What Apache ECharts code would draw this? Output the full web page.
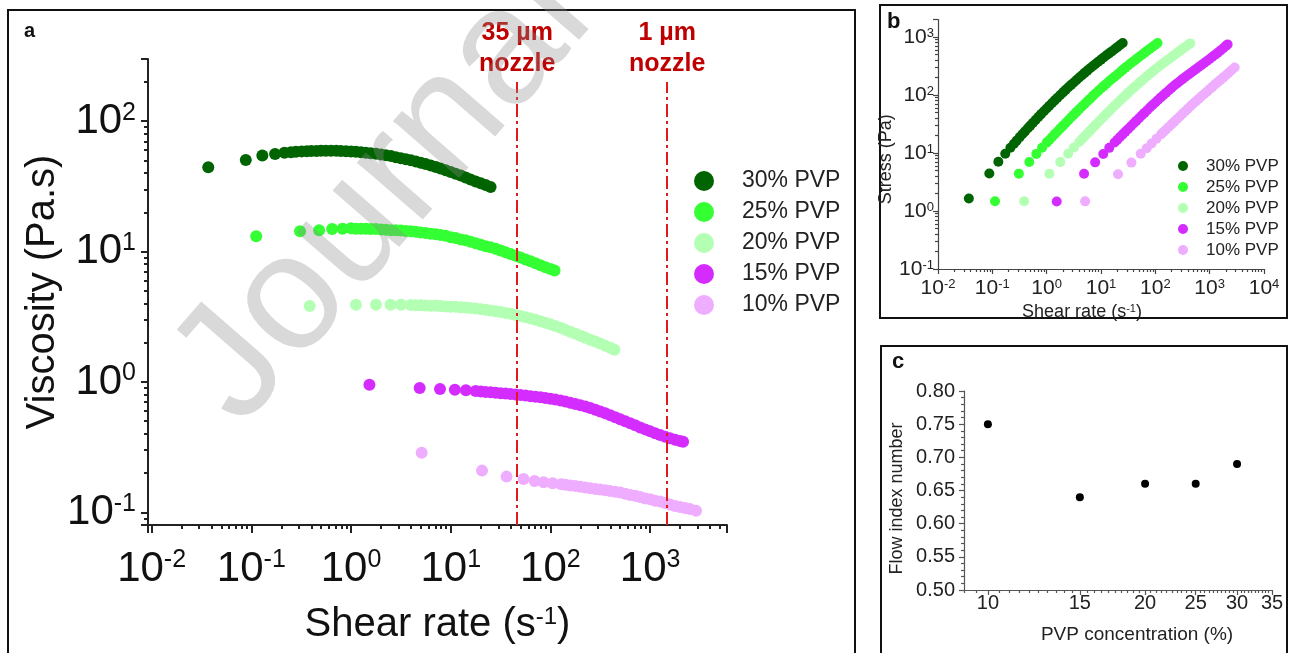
<!DOCTYPE html>
<html>
<head>
<meta charset="utf-8">
<script src="https://cdn.jsdelivr.net/npm/echarts@6/dist/echarts.min.js"></script>
<style>
    html, body { margin: 0; padding: 0; background: #fff; }
    #chart { width: 1291px; height: 653px; }
</style>
</head>
<body>
<div id="chart"></div>
<script>
const FONT = '"Liberation Sans", Arial, Helvetica, sans-serif';

const seriesNames = ['30% PVP', '25% PVP', '20% PVP', '15% PVP', '10% PVP'];
const seriesColors = ['#006400', '#33ff33', '#b3ffb3', '#d42cff', '#efadff'];

// shear rate (1/s) and viscosity (Pa.s)
const rate30 = [0.037, 0.088, 0.129, 0.173, 0.215, 0.25, 0.28, 0.32, 0.36, 0.40, 0.45, 0.50, 0.56, 0.63, 0.71,
    0.79, 0.89, 1.0, 1.12, 1.26, 1.41, 1.58, 1.78, 2.0, 2.24, 2.51, 2.82, 3.16, 3.55, 3.98, 4.47, 5.0, 5.6,
    6.3, 7.1, 7.9, 8.9, 10, 11.2, 12.6, 14.1, 15.8, 17.8, 20, 22.4, 25.1];
const visc30 = [44.4, 50.5, 54.6, 56.1, 57.2, 57.9, 58.3, 58.7, 58.9, 59.0, 59.2, 59.3, 59.4, 59.4, 59.4,
    59.2, 58.9, 58.6, 58.3, 57.9, 57.3, 56.8, 56.2, 55.5, 54.7, 54.0, 53.0, 51.9, 51.1, 50.1, 49.1, 48.1, 47.0,
    45.8, 44.6, 43.4, 42.1, 40.7, 39.5, 38.3, 37.0, 35.7, 34.5, 33.4, 32.4, 31.3];

const rate25 = [0.112, 0.308, 0.479, 0.647, 0.822, 1.0, 1.12, 1.26, 1.41, 1.58, 1.78, 2.0, 2.24, 2.51, 2.82,
    3.16, 3.55, 3.98, 4.47, 5.0, 5.6, 6.3, 7.1, 7.9, 8.9, 10, 11.2, 12.6, 14.1, 15.8, 17.8, 20, 22.4, 25.1,
    28.2, 31.6, 35.5, 39.8, 44.7, 50.1, 56.2, 63.1, 70.8, 79.4, 89.1, 100, 110];
const visc25 = [13.1, 14.3, 14.6, 14.9, 15.0, 15.1, 15.0, 15.0, 15.0, 14.9, 14.9, 14.8, 14.7, 14.6, 14.6,
    14.5, 14.4, 14.3, 14.2, 14.0, 13.9, 13.7, 13.6, 13.4, 13.2, 12.9, 12.7, 12.4, 12.2, 11.9, 11.6, 11.3, 11.0,
    10.8, 10.5, 10.2, 9.89, 9.59, 9.29, 8.99, 8.71, 8.43, 8.15, 7.87, 7.60, 7.35, 7.16];

const rate20 = [0.385, 1.12, 1.78, 2.49, 3.17, 3.98, 4.47, 5.0, 5.6, 6.3, 7.1, 7.9, 8.9, 10, 11.2, 12.6, 14.1,
    15.8, 17.8, 20, 22.4, 25.1, 28.2, 31.6, 35.5, 39.8, 44.7, 50.1, 56.2, 63.1, 70.8, 79.4, 89.1, 100, 112,
    126, 141, 158, 178, 200, 224, 251, 282, 316, 355, 398, 438];
const visc20 = [3.82, 3.91, 3.91, 3.91, 3.91, 3.89, 3.88, 3.87, 3.86, 3.85, 3.84, 3.82, 3.80, 3.78, 3.77,
    3.75, 3.72, 3.69, 3.66, 3.62, 3.58, 3.54, 3.49, 3.44, 3.38, 3.33, 3.27, 3.21, 3.14, 3.07, 3.00, 2.92, 2.84,
    2.77, 2.69, 2.61, 2.52, 2.43, 2.34, 2.26, 2.18, 2.11, 2.04, 1.97, 1.90, 1.83, 1.77];

const rate15 = [1.53, 4.88, 7.81, 11.0, 14.2, 17.8, 20, 22.4, 25.1, 28.2, 31.6, 35.5, 39.8, 44.7, 50.1, 56.2,
    63.1, 70.8, 79.4, 89.1, 100, 112, 126, 141, 158, 178, 200, 224, 251, 282, 316, 355, 398, 447, 501, 562,
    631, 708, 794, 891, 1000, 1122, 1259, 1413, 1585, 1778, 1995, 2140];
const visc15 = [0.953, 0.899, 0.883, 0.873, 0.863, 0.851, 0.845, 0.839, 0.834, 0.828, 0.820, 0.815, 0.807,
    0.800, 0.793, 0.787, 0.778, 0.771, 0.764, 0.754, 0.743, 0.733, 0.721, 0.708, 0.693, 0.679, 0.664, 0.649,
    0.631, 0.612, 0.594, 0.575, 0.556, 0.537, 0.518, 0.500, 0.482, 0.465, 0.448, 0.433, 0.418, 0.405, 0.392,
    0.380, 0.370, 0.360, 0.352, 0.348];

const rate10 = [5.11, 20.6, 36.3, 53.8, 69.4, 85.4, 105, 128, 141, 158, 178, 200, 224, 251, 282, 316, 355,
    398, 447, 501, 562, 631, 708, 794, 891, 1000, 1122, 1259, 1413, 1585, 1778, 1995, 2239, 2512, 2884];
const visc10 = [0.287, 0.209, 0.188, 0.180, 0.174, 0.170, 0.167, 0.164, 0.163, 0.161, 0.159, 0.157, 0.155,
    0.153, 0.151, 0.150, 0.148, 0.146, 0.144, 0.142, 0.139, 0.136, 0.134, 0.131, 0.128, 0.126, 0.123, 0.121,
    0.118, 0.115, 0.112, 0.110, 0.108, 0.106, 0.103];

const rates = [rate30, rate25, rate20, rate15, rate10];
const viscs = [visc30, visc25, visc20, visc15, visc10];

const nozzleRates = [46.4, 1480];
const nozzleLabels = ['35 µm\nnozzle', '1 µm\nnozzle'];

// panel c
const concentration = [10, 15, 20, 25, 30];
const flowIndex = [0.75, 0.64, 0.66, 0.66, 0.69];
const concTicks = [10, 15, 20, 25, 30, 35];
const concMinorTicks = [9, 9.5, 10.5, 11, 11.5, 12, 12.5, 13, 13.5, 14, 14.5, 15.5, 16, 16.5, 17, 17.5, 18,
    18.5, 19, 19.5, 20.5, 21, 21.5, 22, 22.5, 23, 23.5, 24, 24.5, 25.5, 26, 26.5, 27, 27.5, 28, 28.5, 29,
    29.5, 30.5, 31, 31.5, 32, 32.5, 33, 33.5, 34, 34.5];

// 2..9 x 10^e minor ticks between lo and hi
function logMinor(lo, hi) {
    const out = [];
    for (let e = -3; e <= 4; e++) {
        for (let m = 2; m <= 9; m++) {
            const v = +(m * Math.pow(10, e)).toPrecision(3);
            if (v > lo && v < hi) out.push(v);
        }
    }
    return out;
}

function pow10Label(v) {
    const l = Math.log10(v);
    const e = Math.round(l);
    if (Math.abs(l - e) > 1e-6) return '';
    return '{b|10}{s|' + e + '}';
}

const chart = echarts.init(document.getElementById('chart'));

const A = { xMin: 0.0092, xMax: 5900, yMin: 0.08, yMax: 300 };
const B = { xMin: 0.01, xMax: 10000, yMin: 0.1, yMax: 2000 };

const axA = { color: '#222', width: 2 };
const axB = { color: '#444', width: 1.2 };
const axC = { color: '#555', width: 1.2 };

function minorAxis(gridIndex, min, max, pos, values, len, lineStyle) {
    return {
        type: 'log', gridIndex, min, max, position: pos,
        axisLine: { show: false },
        axisLabel: { show: false },
        splitLine: { show: false },
        axisTick: { show: true, length: len, customValues: values, lineStyle }
    };
}

const richA = {
    b: { fontSize: 42, fontFamily: FONT, color: '#111', verticalAlign: 'bottom' },
    s: { fontSize: 25, fontFamily: FONT, color: '#111', verticalAlign: 'top' }
};
const richB = {
    b: { fontSize: 21, fontFamily: FONT, color: '#222', verticalAlign: 'bottom' },
    s: { fontSize: 13, fontFamily: FONT, color: '#222', verticalAlign: 'top' }
};

const seriesA = seriesNames.map((name, i) => ({
    name, type: 'scatter', xAxisIndex: 0, yAxisIndex: 0, symbolSize: 12,
    itemStyle: { color: seriesColors[i], opacity: 1 },
    data: rates[i].map((r, j) => [r, viscs[i][j]])
}));
seriesA[0].markLine = {
    silent: true, symbol: ['none', 'none'], animation: false,
    lineStyle: { color: '#e01b1b', width: 2, type: [13, 4, 3, 4] },
    label: {
        show: true, position: 'end', distance: 2, formatter: '{b}',
        color: '#c00000', fontWeight: 'bold', fontSize: 25, lineHeight: 31, fontFamily: FONT
    },
    data: nozzleRates.map((r, i) => [
        { name: nozzleLabels[i], coord: [r, A.yMin] },
        { name: nozzleLabels[i], coord: [r, 200] }
    ])
};

// stress = shear rate x viscosity (same measurement, panel b)
const seriesB = seriesNames.map((name, i) => ({
    name, type: 'scatter', xAxisIndex: 2, yAxisIndex: 2, symbolSize: 10,
    itemStyle: { color: seriesColors[i], opacity: 1 },
    data: rates[i].map((r, j) => [r, r * viscs[i][j]])
}));

const option = {
    animation: false,
    textStyle: { fontFamily: FONT },
    grid: [
        { left: 148, top: 59, width: 579, height: 466, outerBoundsMode: 'none' },
        { left: 938, top: 19.5, width: 326, height: 249.5, outerBoundsMode: 'none' },
        { left: 964, top: 391, width: 308, height: 199, outerBoundsMode: 'none' }
    ],
    xAxis: [
        {
            type: 'log', gridIndex: 0, min: A.xMin, max: A.xMax,
            axisLine: { onZero: false, lineStyle: axA },
            axisTick: { length: 8, lineStyle: axA },
            splitLine: { show: false },
            axisLabel: { formatter: pow10Label, margin: 23, rich: richA },
            name: '{n|Shear rate (s}{s|-1}{n|)}', nameLocation: 'middle', nameGap: 80,
            nameTextStyle: {
                rich: {
                    n: { fontSize: 40, fontFamily: FONT, color: '#111', verticalAlign: 'bottom' },
                    s: { fontSize: 24, fontFamily: FONT, color: '#111', verticalAlign: 'top' }
                }
            }
        },
        minorAxis(0, A.xMin, A.xMax, 'bottom', logMinor(A.xMin, A.xMax), 4, axA),
        {
            type: 'log', gridIndex: 1, min: B.xMin, max: B.xMax,
            axisLine: { onZero: false, lineStyle: axB },
            axisTick: { length: 5, lineStyle: axB },
            splitLine: { show: false },
            axisLabel: { formatter: pow10Label, margin: 9, rich: richB },
            name: '{n|Shear rate (s}{s|-1}{n|)}', nameLocation: 'middle', nameGap: 34,
            nameTextStyle: {
                padding: [0, 38, 0, 0],
                rich: {
                    n: { fontSize: 18, fontFamily: FONT, color: '#222', verticalAlign: 'bottom' },
                    s: { fontSize: 11, fontFamily: FONT, color: '#222', verticalAlign: 'top' }
                }
            }
        },
        minorAxis(1, B.xMin, B.xMax, 'bottom', logMinor(B.xMin, B.xMax), 3, axB),
        {
            type: 'log', gridIndex: 2, min: 9, max: 35,
            axisLine: { onZero: false, lineStyle: axC },
            axisTick: { length: 5, customValues: concTicks, lineStyle: axC },
            splitLine: { show: false },
            axisLabel: { customValues: concTicks, margin: 3, fontSize: 20, color: '#222' },
            name: 'PVP concentration (%)', nameLocation: 'middle', nameGap: 35,
            nameTextStyle: { fontSize: 19, color: '#222', padding: [0, 0, 0, 38] }
        },
        minorAxis(2, 9, 35, 'bottom', concMinorTicks, 3, axC)
    ],
    yAxis: [
        {
            type: 'log', gridIndex: 0, min: A.yMin, max: A.yMax,
            axisLine: { onZero: false, lineStyle: axA },
            axisTick: { length: 7, lineStyle: axA },
            splitLine: { show: false },
            axisLabel: { formatter: pow10Label, margin: 12, rich: richA },
            name: 'Viscosity (Pa.s)', nameLocation: 'middle', nameGap: 82, nameRotate: 90,
            nameTextStyle: { fontSize: 40, color: '#111' }
        },
        minorAxis(0, A.yMin, A.yMax, 'left', logMinor(A.yMin, A.yMax), 4, axA),
        {
            type: 'log', gridIndex: 1, min: B.yMin, max: B.yMax,
            axisLine: { onZero: false, lineStyle: axB },
            axisTick: { length: 5, lineStyle: axB },
            splitLine: { show: false },
            axisLabel: { formatter: pow10Label, margin: 4, rich: richB },
            name: 'Stress (Pa)', nameLocation: 'middle', nameGap: 33, nameRotate: 90,
            nameTextStyle: { fontSize: 18, color: '#222', padding: [0, 30, 0, 0] }
        },
        minorAxis(1, B.yMin, B.yMax, 'left', logMinor(B.yMin, B.yMax), 3, axB),
        {
            type: 'value', gridIndex: 2, min: 0.5, max: 0.8, interval: 0.05,
            axisLine: { show: true, lineStyle: axC },
            axisTick: { show: true, length: 5, lineStyle: axC },
            minorTick: { show: true, splitNumber: 5, length: 3, lineStyle: axC },
            splitLine: { show: false },
            axisLabel: { formatter: v => v.toFixed(2), margin: 9, fontSize: 20, color: '#222' },
            name: 'Flow index number', nameLocation: 'middle', nameGap: 58, nameRotate: 90,
            nameTextStyle: { fontSize: 18, color: '#222', padding: [0, 16, 0, 0] }
        }
    ],
    legend: [
        {
            orient: 'vertical', left: 694, top: 169.5, padding: 0,
            itemWidth: 66, itemHeight: 20, itemGap: 8, icon: 'circle',
            textStyle: { fontSize: 23, color: '#222' },
            data: seriesNames
        },
        {
            orient: 'vertical', left: 1178, top: 157.5, padding: 0,
            itemWidth: 36, itemHeight: 10, itemGap: 4, icon: 'circle',
            textStyle: { fontSize: 17, color: '#222' },
            data: seriesNames
        }
    ],
    graphic: [
        { type: 'rect', shape: { x: 8, y: 10, width: 847, height: 660 }, style: { fill: 'none', stroke: '#111', lineWidth: 2 } },
        { type: 'rect', shape: { x: 880, y: 5, width: 407, height: 313 }, style: { fill: 'none', stroke: '#111', lineWidth: 2 } },
        { type: 'rect', shape: { x: 881, y: 346, width: 406, height: 320 }, style: { fill: 'none', stroke: '#111', lineWidth: 2 } },
        { type: 'text', x: 24, y: 21, style: { text: 'a', font: 'bold 20px ' + FONT, fill: '#111' } },
        { type: 'text', x: 887, y: 11, style: { text: 'b', font: 'bold 22px ' + FONT, fill: '#111' } },
        { type: 'text', x: 892, y: 351, style: { text: 'c', font: 'bold 22px ' + FONT, fill: '#111' } },
        {
            type: 'text', x: 384, y: 195, rotation: 49 * Math.PI / 180, z: 100, silent: true,
            style: {
                text: 'Journal', font: '165px ' + FONT, fill: 'rgba(140,140,140,0.33)',
                textAlign: 'center', textVerticalAlign: 'middle'
            }
        }
    ],
    series: [
        ...seriesA,
        ...seriesB,
        {
            name: 'Flow index', type: 'scatter', xAxisIndex: 4, yAxisIndex: 4, symbolSize: 8,
            itemStyle: { color: '#000', opacity: 1 },
            data: concentration.map((c, i) => [c, flowIndex[i]])
        }
    ]
};

chart.setOption(option);
</script>
</body>
</html>
